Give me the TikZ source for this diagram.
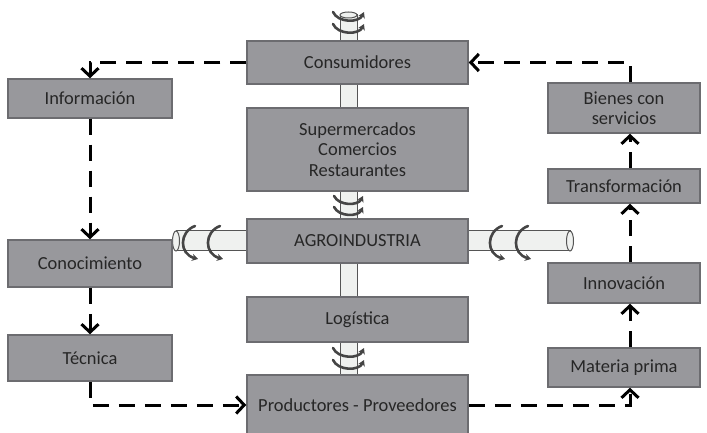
\documentclass[tikz,border=0pt]{standalone}
\usepackage{fontspec}
\setmainfont{Carlito}
\usetikzlibrary{arrows.meta}
\definecolor{boxfill}{HTML}{98989C}
\definecolor{boxline}{HTML}{6C6C70}
\definecolor{txt}{HTML}{262626}
\definecolor{pipefill}{HTML}{EFF1EF}
\definecolor{pipeline}{HTML}{555555}
\definecolor{rotcol}{HTML}{454545}
\tikzset{
  box/.style={draw=boxline, fill=boxfill, line width=1.5bp, text=txt,
    inner sep=0pt, align=center,
    font=\fontsize{18.5}{20.5}\selectfont},
  pipe/.style={draw=pipeline, fill=pipefill, line width=1bp},
  rot/.style={draw=rotcol, line width=2.6bp, line cap=round,
    -{Stealth[length=6bp,width=7bp,inset=2bp]}},
  conn/.style={draw=black, line width=3bp, dash pattern=on 16bp off 10bp,
    -{Straight Barb[length=8bp,width=17bp,line width=3bp]}},
}
\begin{document}
\begin{tikzpicture}[x=1bp,y=-1bp]
\useasboundingbox (0,0) rectangle (707,433);
\coordinate (rc) at (630,0);

% vertical pipe through the central column
\path[pipe] (340,15) rectangle (357,378);
\path[pipe] (348.5,15) ellipse [x radius=8.5, y radius=3];

% horizontal pipes on both sides of the agro-industry block
\path[pipe] (176,231) rectangle (250,251);
\path[pipe] (176,241) ellipse [x radius=3.5, y radius=10];
\path[pipe] (465,231) rectangle (570,251);
\path[pipe] (570,241) ellipse [x radius=3.5, y radius=10];

% central column
\node[box, minimum width=221bp, minimum height=43bp] (cons) at (357.5,62.5) {Consumidores};
\node[box, minimum width=221bp, minimum height=83bp] (super) at (357.5,149.5) {Supermercados\\Comercios\\Restaurantes};
\node[box, minimum width=221bp, minimum height=44bp] (agro) at (357.5,241) {AGROINDUSTRIA};
\node[box, minimum width=221bp, minimum height=45bp] (log) at (357.5,319.5) {Logística};
\node[box, minimum width=221bp, minimum height=60bp] (prod) at (357.5,405) {Productores - Proveedores};

% left column
\node[box, minimum width=164bp, minimum height=39bp] (info) at (90,98.5) {Información};
\node[box, minimum width=164bp, minimum height=47bp] (conoc) at (90,263.5) {Conocimiento};
\node[box, minimum width=164bp, minimum height=46bp] (tec) at (90,358) {Técnica};

% right column
\node[box, minimum width=152bp, minimum height=50bp] (bien) at (624,108) {Bienes con\\servicios};
\node[box, minimum width=152bp, minimum height=34bp] (trans) at (624,186) {Transformación};
\node[box, minimum width=152bp, minimum height=40bp] (inn) at (624,283) {Innovación};
\node[box, minimum width=152bp, minimum height=39bp] (mp) at (624,367.5) {Materia prima};

% rotation marks on the vertical pipe
\foreach \y in {12,24}
  \draw[rot] (333,\y) .. controls (338,\y+11) and (359,\y+11) .. (364,\y);
\foreach \y in {196,207}
  \draw[rot] (334,\y) .. controls (339,\y+10) and (358,\y+10) .. (363,\y);
\foreach \y in {348,360}
  \draw[rot] (333,\y) .. controls (338,\y+11) and (359,\y+11) .. (364,\y);

% rotation marks on the horizontal pipes
\foreach \x in {195,220,502,528}
  \draw[rot] (\x,226) .. controls (\x-16,232) and (\x-16,254) .. (\x+3,259);

% information flow
\draw[conn] (cons.west) -| (info.north);
\draw[conn] (info.south) -- (conoc.north);
\draw[conn] (conoc.south) -- (tec.north);
\draw[conn] (tec.south) |- (prod.west);
\draw[conn] (prod.east) -| (mp.south -| rc);
\draw[conn] (mp.north -| rc) -- (inn.south -| rc);
\draw[conn] (inn.north -| rc) -- (trans.south -| rc);
\draw[conn] (trans.north -| rc) -- (bien.south -| rc);
\draw[conn] (bien.north -| rc) |- (cons.east);
\end{tikzpicture}
\end{document}
